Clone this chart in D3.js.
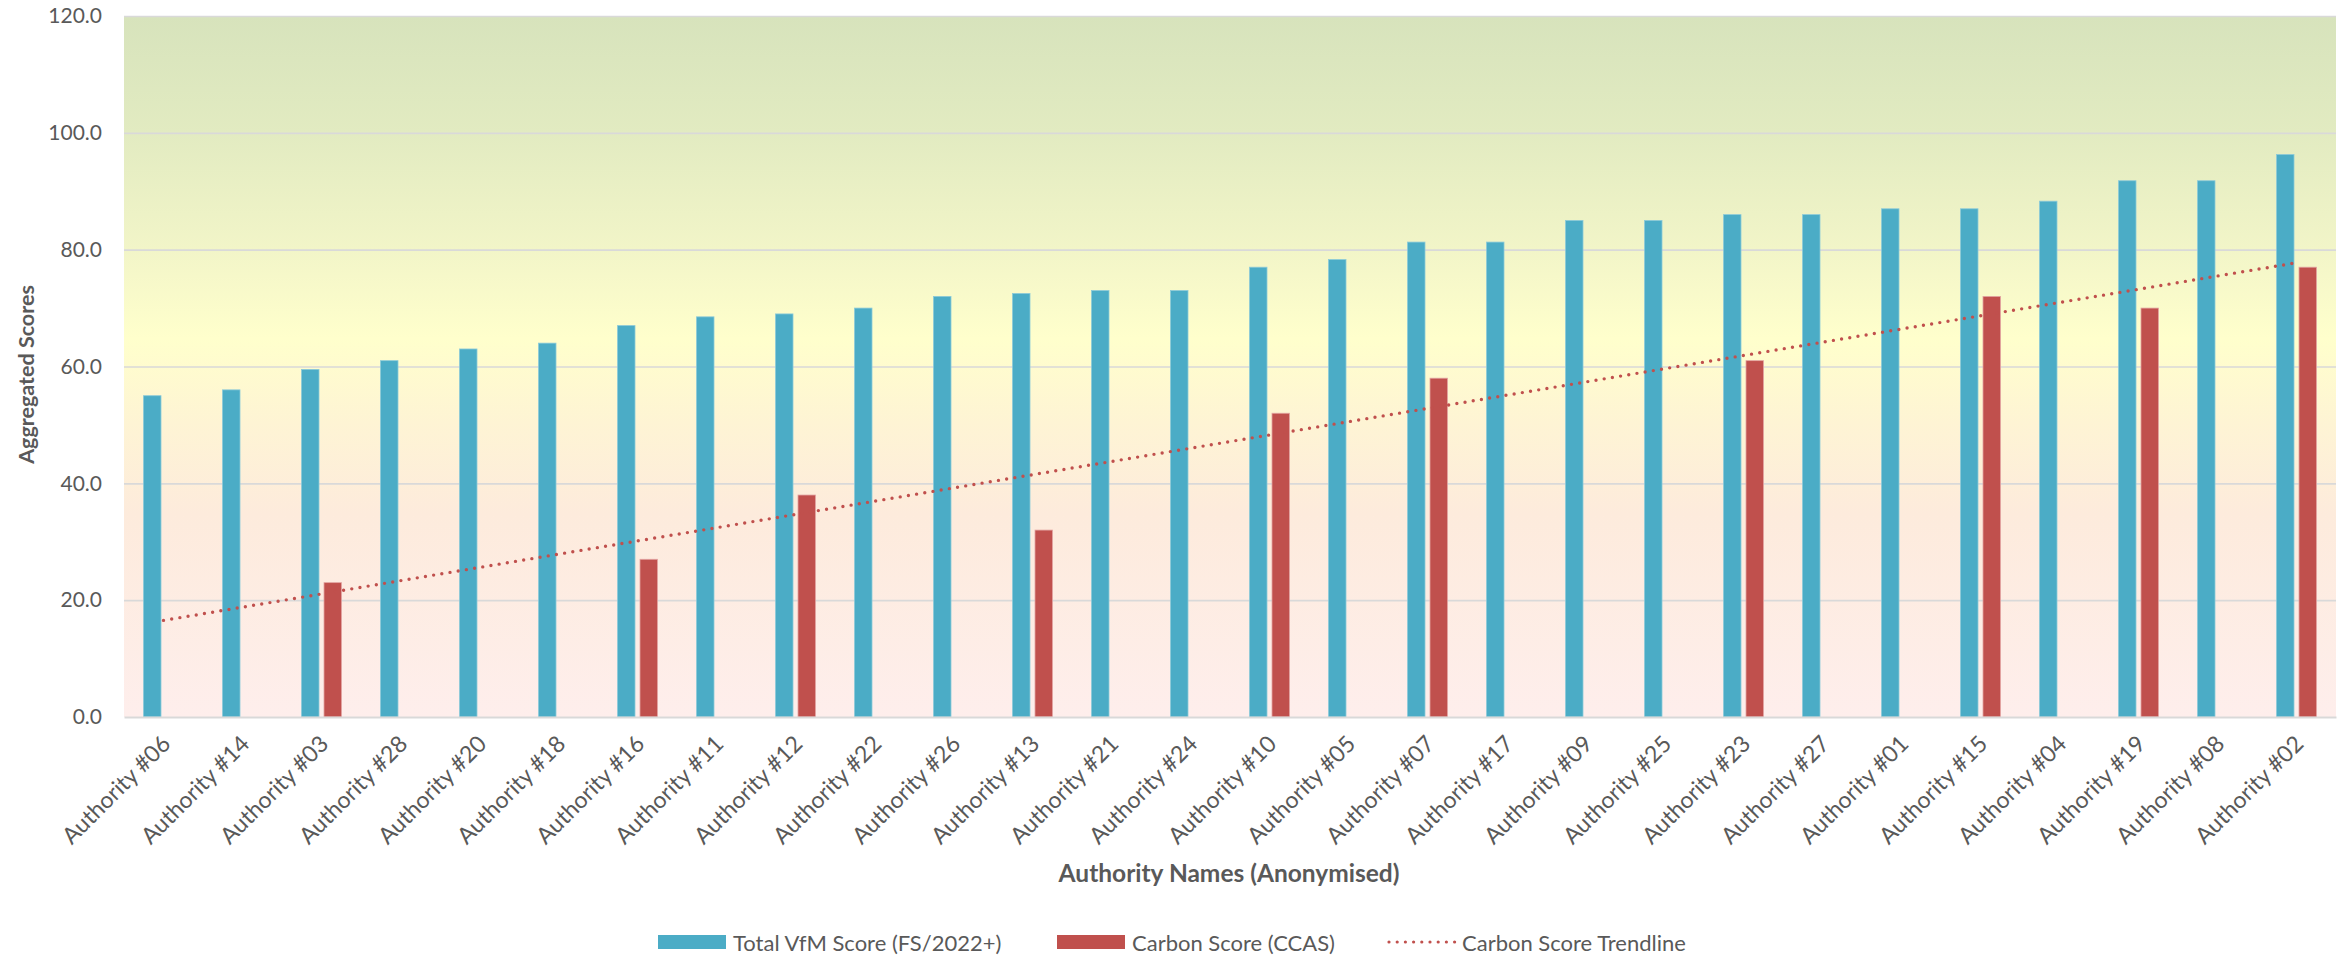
<!DOCTYPE html>
<html>
<head>
<meta charset="utf-8">
<script src="https://cdn.jsdelivr.net/npm/d3@7"></script>
<style>
  html, body { margin: 0; padding: 0; background: #ffffff; }
  svg { display: block; }
  text { font-family: Lato, "Open Sans", sans-serif; fill: #595959; }
</style>
</head>
<body>
<svg id="chart" width="2348" height="956"></svg>
<script>
const categories = ["Authority #06","Authority #14","Authority #03","Authority #28","Authority #20","Authority #18","Authority #16","Authority #11","Authority #12","Authority #22","Authority #26","Authority #13","Authority #21","Authority #24","Authority #10","Authority #05","Authority #07","Authority #17","Authority #09","Authority #25","Authority #23","Authority #27","Authority #01","Authority #15","Authority #04","Authority #19","Authority #08","Authority #02"];
const vfmScores = [55,56,59.5,61,63,64,67,68.5,69,70,72,72.5,73,73,77,78.3,81.3,81.3,85,85,86,86,87,87,88.3,91.8,91.8,96.3];
const carbonScores = [null,null,23,null,null,null,27,null,38,null,null,32,null,null,52,null,58,null,null,null,61,null,null,72,null,70,null,77];
const yTicks = [0,20,40,60,80,100,120];
const seriesNames = ["Total VfM Score (FS/2022+)","Carbon Score (CCAS)","Carbon Score Trendline"];
const axisTitleY = "Aggregated Scores";
const axisTitleX = "Authority Names (Anonymised)";

const COLORS = { vfm: "#4BACC6", carbon: "#C0504D", grid: "#D9D9D9" };
const plot = { left: 124, right: 2336, top: 16, bottom: 717 };

const svg = d3.select("#chart");

const x = d3.scaleBand().domain(categories).range([plot.left, plot.right]).paddingInner(0).paddingOuter(0);
const y = d3.scaleLinear().domain([0, 120]).range([plot.bottom, plot.top]);
const sub = d3.scaleBand().domain(["vfm","carbon"]).range([0, 40]).paddingInner(0.222).paddingOuter(0);
const pairOffset = x.bandwidth() / 2 - 20;

// background gradient
const defs = svg.append("defs");
const grad = defs.append("linearGradient").attr("id", "bg").attr("x1", 0).attr("y1", 0).attr("x2", 0).attr("y2", 1);
[[0, "#D7E3BC"], [0.167, "#E2EBC1"], [0.333, "#F2F5C8"], [0.46, "#FFFFCC"], [0.58, "#FEF4D4"], [0.71, "#FDEBDC"], [1, "#FEEEEC"]]
  .forEach(([o, c]) => grad.append("stop").attr("offset", o).attr("stop-color", c));

svg.append("rect")
  .attr("x", plot.left).attr("y", plot.top)
  .attr("width", plot.right - plot.left).attr("height", plot.bottom - plot.top)
  .attr("fill", "url(#bg)");

// gridlines
svg.append("g")
  .attr("transform", `translate(${plot.left},0)`)
  .call(d3.axisLeft(y).tickValues(yTicks.filter(t => t > 0)).tickSize(-(plot.right - plot.left)).tickFormat(""))
  .call(g => g.select(".domain").remove())
  .call(g => g.selectAll("line").attr("stroke", COLORS.grid).attr("stroke-width", 1.6));

// y axis labels
svg.append("g")
  .attr("transform", `translate(${plot.left},0)`)
  .call(d3.axisLeft(y).tickValues(yTicks).tickSize(0).tickPadding(22).tickFormat(d3.format(".1f")))
  .call(g => g.select(".domain").remove())
  .call(g => g.selectAll("text").style("font-size", "21px").style("fill", "#595959").style("font-family", "Lato, 'Open Sans', sans-serif"));

// bars
svg.append("g").selectAll("rect.vfm")
  .data(categories.map((c, i) => ({ c, v: vfmScores[i] })))
  .join("rect")
  .attr("x", d => x(d.c) + pairOffset + sub("vfm"))
  .attr("y", d => y(d.v))
  .attr("width", sub.bandwidth())
  .attr("height", d => y(0) - y(d.v))
  .attr("fill", COLORS.vfm)
  .attr("stroke", "#8CCAD9").attr("stroke-width", 0.8);

svg.append("g").selectAll("rect.carbon")
  .data(categories.map((c, i) => ({ c, v: carbonScores[i] })).filter(d => d.v != null))
  .join("rect")
  .attr("x", d => x(d.c) + pairOffset + sub("carbon"))
  .attr("y", d => y(d.v))
  .attr("width", sub.bandwidth())
  .attr("height", d => y(0) - y(d.v))
  .attr("fill", COLORS.carbon)
  .attr("stroke", "#E3A5A3").attr("stroke-width", 0.8);

// baseline
svg.append("g")
  .attr("transform", `translate(0,${plot.bottom})`)
  .call(d3.axisBottom(x).tickSize(0).tickFormat(""))
  .call(g => g.select(".domain").attr("stroke", COLORS.grid).attr("stroke-width", 2.2));

// linear trendline of carbon scores (least squares over category index)
const pts = carbonScores.map((v, i) => [i, v]).filter(p => p[1] != null);
const mx = d3.mean(pts, p => p[0]), my = d3.mean(pts, p => p[1]);
const slope = d3.sum(pts, p => (p[0] - mx) * (p[1] - my)) / d3.sum(pts, p => (p[0] - mx) ** 2);
const intercept = my - slope * mx;
const trend = [0, categories.length - 1].map(i => ({ c: categories[i], v: intercept + slope * i }));
svg.append("path")
  .datum(trend)
  .attr("d", d3.line().x(d => x(d.c) + x.bandwidth() / 2).y(d => y(d.v)))
  .attr("fill", "none")
  .attr("stroke", COLORS.carbon)
  .attr("stroke-width", 3.4)
  .attr("stroke-linecap", "round")
  .attr("stroke-dasharray", "0 8.3");

// x labels
svg.append("g").selectAll("text")
  .data(categories)
  .join("text")
  .attr("transform", d => `translate(${x(d) + x.bandwidth() / 2 + 2},${plot.bottom + 22}) rotate(-45)`)
  .attr("text-anchor", "end")
  .attr("dominant-baseline", "central")
  .style("font-size", "23px")
  .text(d => d);

// axis titles
svg.append("text")
  .attr("transform", `translate(26,${(plot.top + plot.bottom) / 2 + 8}) rotate(-90)`)
  .attr("text-anchor", "middle")
  .attr("dominant-baseline", "central")
  .style("font-size", "21.5px").style("font-weight", "bold")
  .text(axisTitleY);

svg.append("text")
  .attr("x", (plot.left + plot.right) / 2 - 1)
  .attr("y", 882)
  .attr("text-anchor", "middle")
  .style("font-size", "24.5px").style("font-weight", "bold")
  .text(axisTitleX);

// legend
const legend = svg.append("g");
const legY = 942;
const legItems = [
  { name: seriesNames[0], type: "rect", color: COLORS.vfm, x: 658 },
  { name: seriesNames[1], type: "rect", color: COLORS.carbon, x: 1057 },
  { name: seriesNames[2], type: "line", color: COLORS.carbon, x: 1387 }
];
legItems.forEach(it => {
  if (it.type === "rect") {
    legend.append("rect").attr("x", it.x).attr("y", legY - 7).attr("width", 68).attr("height", 14).attr("fill", it.color);
  } else {
    legend.append("line").attr("x1", it.x + 2).attr("x2", it.x + 68).attr("y1", legY).attr("y2", legY)
      .attr("stroke", it.color).attr("stroke-width", 3.2).attr("stroke-linecap", "round").attr("stroke-dasharray", "0 8.2");
  }
  legend.append("text").attr("x", it.x + 75).attr("y", legY).attr("dominant-baseline", "central")
    .style("font-size", "22px").text(it.name);
});
</script>
</body>
</html>
